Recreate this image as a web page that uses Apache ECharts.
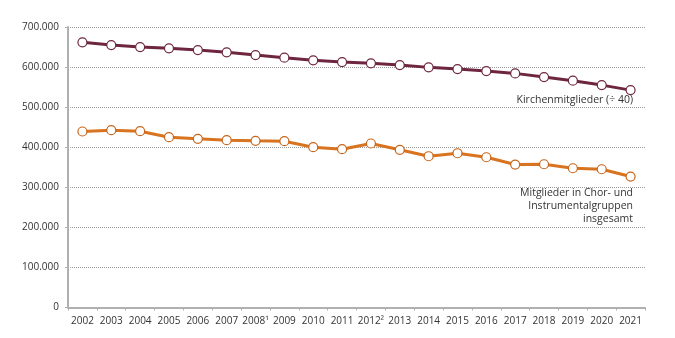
<!DOCTYPE html>
<html><head><meta charset="utf-8">
<script src="https://cdn.jsdelivr.net/npm/echarts@6/dist/echarts.min.js"></script>
<style>html,body{margin:0;padding:0;background:#fff}#c{width:675px;height:338px}</style>
</head><body><div id="c"></div>
<script>
const years = ['2002','2003','2004','2005','2006','2007','2008¹','2009','2010','2011','2012²','2013','2014','2015','2016','2017','2018','2019','2020','2021'];
const kirchen = [661750,655000,650000,646750,642500,636750,630000,623500,616750,612500,609250,605000,599250,595000,590000,584250,575000,566000,555000,542500];
const chor = [439250,442500,440000,425000,421000,417500,416000,415000,400000,395000,409250,393500,377500,385000,375000,356750,357500,347500,345000,326750];
const yTicks = [0,100000,200000,300000,400000,500000,600000,700000];
const labelKirchen = 'Kirchenmitglieder (÷ 40)';
const labelChor = 'Mitglieder in Chor- und\nInstrumentalgruppen\ninsgesamt';

const fmt = v => v === 0 ? '0' : String(v).replace(/\B(?=(\d{3})+(?!\d))/g, '.');
const chart = echarts.init(document.getElementById('c'));
const font = '"Open Sans", sans-serif';
chart.setOption({
  animation: false,
  grid: {left: 68, right: 30, top: 27, bottom: 30.5},
  xAxis: {
    type: 'category', data: years, boundaryGap: true,
    axisLine: {lineStyle: {color: '#b0b0b0', width: 2}},
    axisTick: {show: true, length: 3, interval: 0, lineStyle: {color: '#b0b0b0'}},
    axisLabel: {color: '#333', fontSize: 10, fontFamily: font, margin: 9, interval: 0, hideOverlap: false}
  },
  yAxis: {
    type: 'value', min: yTicks[0], max: yTicks[yTicks.length - 1], interval: 100000,
    axisLine: {show: true, lineStyle: {color: '#b0b0b0', width: 2}},
    axisTick: {show: true, length: 3, lineStyle: {color: '#b0b0b0'}},
    splitLine: {lineStyle: {color: '#999', type: [1, 1], width: 1}},
    axisLabel: {color: '#333', fontSize: 10, fontFamily: font, margin: 9, formatter: v => fmt(v)}
  },
  series: [
    {type: 'line', data: kirchen, symbol: 'circle', symbolSize: 9,
     lineStyle: {color: '#6e2640', width: 3},
     itemStyle: {color: '#fff', borderColor: '#6e2640', borderWidth: 1.2},
     z: 3},
    {type: 'line', data: chor, symbol: 'circle', symbolSize: 9,
     lineStyle: {color: '#d8731f', width: 3},
     itemStyle: {color: '#fff', borderColor: '#c8651a', borderWidth: 1.2},
     z: 3}
  ],
  graphic: [
    {type: 'text', right: 42, top: 95, style: {text: labelKirchen, fill: '#333', font: '10.5px ' + font, textAlign: 'right'}},
    {type: 'text', right: 42, top: 187, style: {text: labelChor, fill: '#333', font: '10.5px ' + font, textAlign: 'right', lineHeight: 13}}
  ]
});
</script></body></html>
